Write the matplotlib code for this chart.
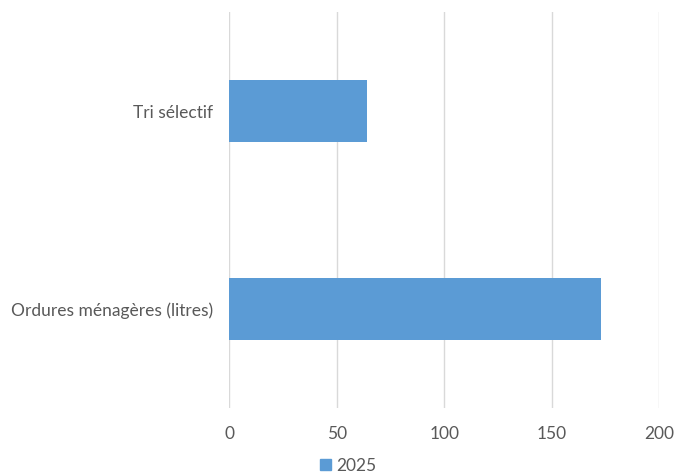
import matplotlib
matplotlib.use("Agg")
import matplotlib.pyplot as plt
from matplotlib.patches import Patch

categories = ["Ordures ménagères (litres)", "Tri sélectif"]
values_2025 = [173, 64]
series_name = "2025"
x_ticks = [0, 50, 100, 150, 200]

plt.rcParams["font.family"] = ["Lato", "DejaVu Sans"]
text_color = "#595959"
bar_color = "#5b9bd5"

fig = plt.figure(figsize=(6.75, 4.74), dpi=100)
ax = fig.add_axes([0.3397, 0.139, 0.6366, 0.8357])

ypos = list(range(len(categories)))
ax.barh(ypos, values_2025, height=0.31, color=bar_color, zorder=3)

ax.set_xlim(0, 200)
ax.set_ylim(-0.5, len(categories) - 0.5)
ax.set_xticks(x_ticks)
ax.set_xticklabels([str(t) for t in x_ticks])
ax.set_yticks(ypos)
ax.set_yticklabels(categories)

ax.grid(axis="x", color="#d9d9d9", linewidth=1, zorder=0)
for s in ax.spines.values():
    s.set_visible(False)
ax.tick_params(axis="both", length=0, colors=text_color, labelsize=12.5)
ax.tick_params(axis="x", pad=13)
ax.tick_params(axis="y", pad=12)

fig.legend(handles=[Patch(color=bar_color, label=series_name)],
           loc="center", bbox_to_anchor=(0.516, 0.017), frameon=False,
           fontsize=12.5, labelcolor=text_color, handlelength=0.6,
           handleheight=0.6, handletextpad=0.3)

fig.savefig("out.png", dpi=100)
